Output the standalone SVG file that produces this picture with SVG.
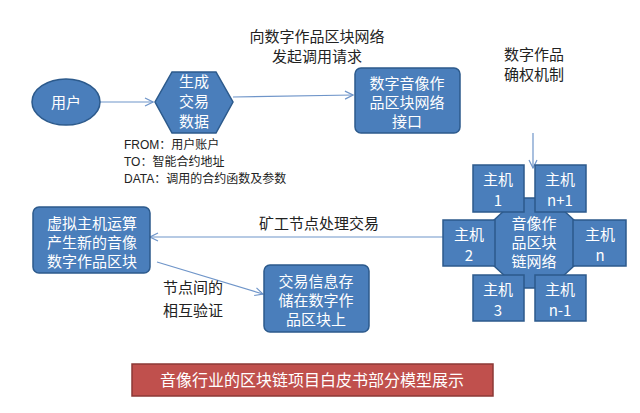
<svg xmlns="http://www.w3.org/2000/svg" width="640" height="413" viewBox="0 0 640 413">
<defs>
<style>
.n{fill:#4a7ebb;stroke:#2c5a8c;stroke-width:1.5}
.w{fill:#fff;font-family:"Noto Sans CJK SC",sans-serif;font-size:15px;text-anchor:middle}
.k{fill:#222;font-family:"Noto Sans CJK SC",sans-serif;font-size:15px;text-anchor:middle}
.s{fill:#222;font-family:"Liberation Sans","Noto Sans CJK SC",sans-serif;font-size:12px}
.c{stroke:#6f95c9;stroke-width:1.2;fill:none;marker-end:url(#a)}
</style>
<marker id="a" markerWidth="10" markerHeight="10" refX="9" refY="5" orient="auto" markerUnits="userSpaceOnUse"><path d="M1,1L9,5L1,9" fill="none" stroke="#6f95c9" stroke-width="1.2"/></marker>
</defs>
<rect width="640" height="413" fill="#fff"/>
<g id="connectors">
<path class="c" d="M100,102H153"/>
<path class="c" d="M233,97L353,95"/>
<path class="c" d="M533,133V168"/>
<path class="c" d="M443,237H150"/>
<path class="c" d="M157,262L263,294"/>
</g>
<g id="user"><ellipse class="n" cx="66" cy="102" rx="34" ry="23"/><text class="w" x="66" y="108">用户</text></g>
<g id="gen"><polygon class="n" points="172,72 216,72 233,102 216,133 172,133 155,102"/><text class="w" x="194" y="87">生成</text><text class="w" x="194" y="107">交易</text><text class="w" x="194" y="127">数据</text></g>
<g id="iface"><rect class="n" x="355" y="68" width="105" height="65" rx="6"/><text class="w" x="407" y="89">数字音像作</text><text class="w" x="407" y="108">品区块网络</text><text class="w" x="407" y="127">接口</text></g>
<g id="net">
<polygon class="n" points="518,198 550,198 574,220 574,266 550,288 518,288 494,266 494,220"/>
<rect class="n" x="473" y="165" width="51" height="47"/><text class="w" x="498" y="185">主机</text><text class="w" x="498" y="206">1</text>
<rect class="n" x="535" y="165" width="51" height="47"/><text class="w" x="560" y="185">主机</text><text class="w" x="560" y="206">n+1</text>
<rect class="n" x="443" y="220" width="52" height="46"/><text class="w" x="469" y="240">主机</text><text class="w" x="469" y="261">2</text>
<rect class="n" x="573" y="220" width="53" height="46"/><text class="w" x="600" y="240">主机</text><text class="w" x="600" y="261">n</text>
<rect class="n" x="473" y="275" width="51" height="46"/><text class="w" x="498" y="295">主机</text><text class="w" x="498" y="316">3</text>
<rect class="n" x="535" y="275" width="51" height="46"/><text class="w" x="560" y="295">主机</text><text class="w" x="560" y="316">n-1</text>
<text class="w" x="534" y="229">音像作</text><text class="w" x="534" y="248">品区块</text><text class="w" x="534" y="267">链网络</text>
</g>
<g id="vm"><rect class="n" x="33" y="207" width="117" height="66" rx="6"/><text class="w" x="92" y="229">虚拟主机运算</text><text class="w" x="92" y="248">产生新的音像</text><text class="w" x="92" y="267">数字作品区块</text></g>
<g id="store"><rect class="n" x="264" y="265" width="105" height="67" rx="6"/><text class="w" x="316" y="287">交易信息存</text><text class="w" x="316" y="306">储在数字作</text><text class="w" x="316" y="325">品区块上</text></g>
<text class="k" x="317" y="42">向数字作品区块网络</text>
<text class="k" x="317" y="62">发起调用请求</text>
<text class="k" x="534" y="60">数字作品</text>
<text class="k" x="534" y="80">确权机制</text>
<text class="k" x="319" y="229">矿工节点处理交易</text>
<text class="k" x="193" y="293">节点间的</text>
<text class="k" x="193" y="316">相互验证</text>
<text class="s" x="124" y="149">FROM：用户账户</text>
<text class="s" x="124" y="166">TO：智能合约地址</text>
<text class="s" x="124" y="183">DATA：调用的合约函数及参数</text>
<g id="title"><rect x="132" y="364" width="361" height="32" fill="#c0504d" stroke="#8c3836" stroke-width="1.5"/><text class="w" x="312" y="386" style="font-size:16px">音像行业的区块链项目白皮书部分模型展示</text></g>
</svg>
